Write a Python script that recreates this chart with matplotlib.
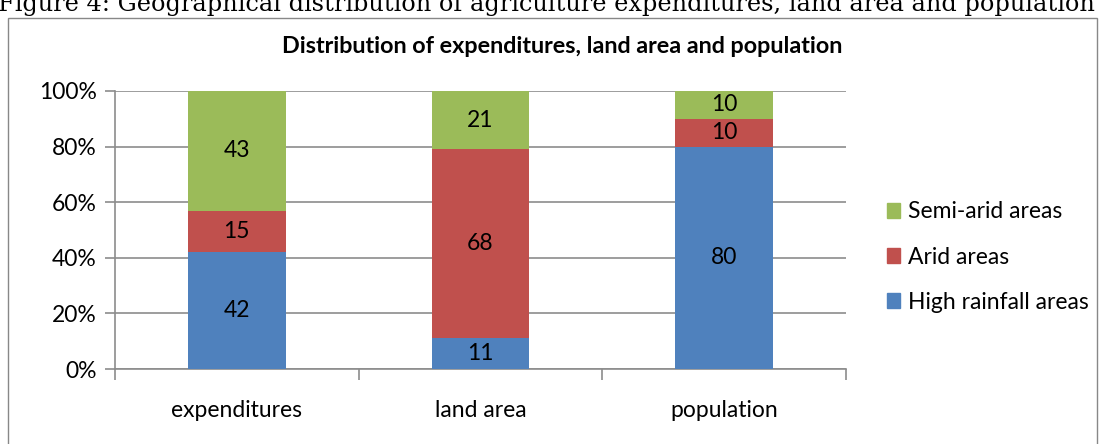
import matplotlib
matplotlib.use("Agg")
import matplotlib.pyplot as plt
from matplotlib.patches import Rectangle, Patch
import numpy as np

categories = ["expenditures", "land area", "population"]
high_rainfall = [42, 11, 80]
arid = [15, 68, 10]
semi_arid = [43, 21, 10]
series_names = ["High rainfall areas", "Arid areas", "Semi-arid areas"]
colors = ["#4F81BD", "#C0504D", "#9BBB59"]
yticks = [0, 20, 40, 60, 80, 100]

plt.rcParams["font.family"] = ["Lato", "DejaVu Sans"]
FS = 16.5

W, H = 1102, 444
fig = plt.figure(figsize=(W / 100, H / 100), dpi=100)

# outer chart border (bottom edge falls outside the picture)
fig.patches.append(Rectangle((8 / W, -0.05), (1097 - 8) / W, 1.05 - 18 / H,
                             transform=fig.transFigure, fill=False,
                             edgecolor="#888888", linewidth=1.0))

# caption from the document, cut off at the top as in the page scan
fig.text(-2 / W, 1 - 11 / H,
         "Figure 4: Geographical distribution of agriculture expenditures, land area and population",
         family="DejaVu Serif", fontsize=17.3, va="baseline", ha="left", color="black")

ax = fig.add_axes([115 / W, 1 - 369 / H, (846 - 115) / W, (369 - 91) / H])
x = np.arange(len(categories))
bottom = np.zeros(len(categories))
handles = []
for vals, name, col in zip([high_rainfall, arid, semi_arid], series_names, colors):
    ax.bar(x, vals, width=0.4, bottom=bottom, color=col, label=name, zorder=3)
    for xi, b, v in zip(x, bottom, vals):
        ax.text(xi, b + v / 2, str(v), ha="center", va="center", fontsize=FS, zorder=4)
    bottom += np.array(vals)
    handles.append(Patch(color=col, label=name))

ax.set_xlim(-0.5, 2.5)
ax.set_ylim(0, 100)
ax.set_yticks(yticks)
ax.set_yticklabels([f"{t}%" for t in yticks], fontsize=FS)
ax.yaxis.grid(True, color="#8c8c8c", linewidth=1.2, zorder=0)
ax.set_axisbelow(True)

ax.set_xticks([-0.5, 0.5, 1.5, 2.5])
ax.set_xticklabels([])
ax.set_xticks(x, minor=True)
ax.set_xticklabels(categories, minor=True, fontsize=FS)
ax.tick_params(axis="x", which="major", length=8, color="#8c8c8c", width=1.2)
ax.tick_params(axis="x", which="minor", length=0, pad=22)
ax.tick_params(axis="y", length=7, color="#8c8c8c", width=1.2, pad=6)

for s in ["top", "right"]:
    ax.spines[s].set_visible(False)
for s in ["left", "bottom"]:
    ax.spines[s].set_color("#8c8c8c")
    ax.spines[s].set_linewidth(1.2)

fig.text(562 / W, 1 - 46 / H, "Distribution of expenditures, land area and population",
         ha="center", va="center", fontsize=16.8, fontweight="bold")

fig.legend(handles=handles[::-1], loc="center left",
           bbox_to_anchor=(866 / W, 1 - 257 / H), frameon=False, fontsize=FS,
           handlelength=0.6, handleheight=0.6, handletextpad=0.35, labelspacing=1.05)

fig.savefig("out.png", dpi=100)
